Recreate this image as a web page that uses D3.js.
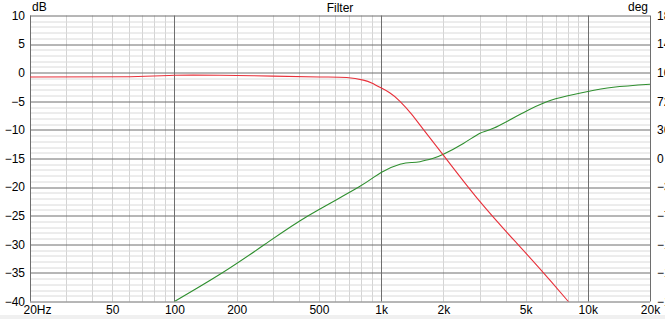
<!DOCTYPE html>
<html>
<head>
<meta charset="utf-8">
<script src="https://cdn.jsdelivr.net/npm/d3@7"></script>
<style>
  body { margin: 0; background: #fff; }
  svg { display: block; font-family: "Liberation Sans", Arial, sans-serif; font-size: 12px; }
</style>
</head>
<body>
<div class="container"></div>
<script>
// frequency response (dB, left axis)
const magFreq = [20, 61, 100, 166, 300, 506, 681, 820, 900, 980, 1100, 1234, 1400, 1600, 2000, 3010, 4530, 6090, 8050, 10000];
const magDb = [-0.75, -0.7, -0.45, -0.45, -0.6, -0.75, -0.85, -1.3, -1.8, -2.5, -3.5, -5.0, -7.2, -9.9, -14.4, -22.55, -29.8, -34.95, -40.0, -43.8];

// phase (deg, right axis)
const phaseFreq = [100, 169, 274, 444, 776, 1000, 1234, 1400, 1542, 1788, 2000, 2500, 3010, 3490, 4875, 6330, 7910, 9880, 13290, 20000];
const phaseDeg = [-180, -144.5, -108, -72, -36.3, -17.5, -7.3, -5, -4.0, 0.3, 5.3, 19, 31.7, 38.0, 57.7, 71.5, 78.7, 84.1, 89.6, 93.4];

const xTicks = [20, 50, 100, 200, 500, 1000, 2000, 5000, 10000, 20000];
const xTickLabels = ["20Hz", "50", "100", "200", "500", "1k", "2k", "5k", "10k", "20k"];
const dbTicks = [10, 5, 0, -5, -10, -15, -20, -25, -30, -35, -40];
const degTicks = [180, 144, 108, 72, 36, 0, -36, -72, -108, -144, -180];

const width = 665;
const height = 319;
const margin = { top: 15.5, right: 15, bottom: 17.5, left: 30 };
const innerWidth = width - margin.left - margin.right;
const innerHeight = height - margin.top - margin.bottom;

const svg = d3.select(".container").append("svg")
  .attr("width", width)
  .attr("height", height);

svg.append("rect").attr("x", 0).attr("y", 315).attr("width", width).attr("height", 4).attr("fill", "#f0f0f0");

const g = svg.append("g").attr("transform", `translate(${margin.left},${margin.top})`);

const xScale = d3.scaleLog().domain([20, 20000]).range([0, innerWidth]);
const yScale = d3.scaleLinear().domain([-40, 10]).range([innerHeight, 0]);
const y2Scale = d3.scaleLinear().domain([-180, 180]).range([innerHeight, 0]);

// minor grid
const minorX = [];
[10, 100, 1000, 10000].forEach((dec) => {
  for (let k = 2; k < 10; k++) {
    const f = dec * k;
    if (f > 20 && f < 20000) minorX.push(f);
  }
});
const minorY = d3.range(-40, 11, 1).filter((v) => v % 5 !== 0);

g.selectAll(".minor-x").data(minorX).enter().append("line")
  .attr("x1", (d) => Math.round(xScale(d)) + 0.5).attr("x2", (d) => Math.round(xScale(d)) + 0.5)
  .attr("y1", 0).attr("y2", innerHeight)
  .attr("stroke", "#d4d4d4");

g.selectAll(".minor-y").data(minorY).enter().append("line")
  .attr("x1", 0).attr("x2", innerWidth)
  .attr("y1", (d) => Math.round(yScale(d)) + 0.5).attr("y2", (d) => Math.round(yScale(d)) + 0.5)
  .attr("stroke", "#dadada");

// major grid
g.selectAll(".major-y").data(dbTicks).enter().append("line")
  .attr("x1", 0).attr("x2", innerWidth)
  .attr("y1", (d) => Math.round(yScale(d)) + 0.5).attr("y2", (d) => Math.round(yScale(d)) + 0.5)
  .attr("stroke", "#6e6e6e");

g.selectAll(".major-x").data([20, 100, 1000, 10000, 20000]).enter().append("line")
  .attr("x1", (d) => Math.round(xScale(d)) + 0.5).attr("x2", (d) => Math.round(xScale(d)) + 0.5)
  .attr("y1", 0).attr("y2", innerHeight)
  .attr("stroke", "#6e6e6e");

// curves
g.append("clipPath").attr("id", "clip")
  .append("rect").attr("width", innerWidth).attr("height", innerHeight);

const magLine = d3.line()
  .x((d, i) => xScale(magFreq[i]))
  .y((d) => yScale(d))
  .curve(d3.curveNatural);

const phaseLine = d3.line()
  .x((d, i) => xScale(phaseFreq[i]))
  .y((d) => y2Scale(d))
  .curve(d3.curveNatural);

g.append("path").datum(phaseDeg)
  .attr("d", phaseLine)
  .attr("fill", "none").attr("stroke", "#2f8f2f").attr("stroke-width", 1.1)
  .attr("clip-path", "url(#clip)");

g.append("path").datum(magDb)
  .attr("d", magLine)
  .attr("fill", "none").attr("stroke", "#e8303a").attr("stroke-width", 1.1)
  .attr("clip-path", "url(#clip)");

// axis labels
const yAxis = d3.axisLeft(yScale).tickValues(dbTicks).tickSize(0).tickPadding(5);
g.append("g").call(yAxis).call((s) => s.select(".domain").remove())
  .selectAll("text").attr("font-size", 12).attr("font-family", "Liberation Sans, Arial, sans-serif").attr("fill", "#000");

const y2Axis = d3.axisRight(y2Scale).tickValues(degTicks).tickSize(0).tickPadding(7);
g.append("g").attr("transform", `translate(${innerWidth},0)`).call(y2Axis)
  .call((s) => s.select(".domain").remove())
  .selectAll("text").attr("font-size", 12).attr("font-family", "Liberation Sans, Arial, sans-serif").attr("fill", "#000");

const xAxis = d3.axisBottom(xScale).tickValues(xTicks)
  .tickFormat((d, i) => xTickLabels[i]).tickSize(0).tickPadding(4);
const xg = g.append("g").attr("transform", `translate(0,${innerHeight})`).call(xAxis);
xg.select(".domain").remove();
xg.selectAll("text").attr("font-size", 12).attr("font-family", "Liberation Sans, Arial, sans-serif").attr("fill", "#000");
xg.selectAll("text").filter((d) => d === 20).attr("text-anchor", "start").attr("x", -7);

svg.append("text").attr("x", 32).attr("y", 11).attr("font-size", 12).text("dB");
svg.append("text").attr("x", 648).attr("y", 11).attr("text-anchor", "end").attr("font-size", 12).text("deg");
svg.append("text").attr("x", margin.left + innerWidth / 2).attr("y", 12).attr("text-anchor", "middle").attr("font-size", 12).text("Filter");
</script>
</body>
</html>
